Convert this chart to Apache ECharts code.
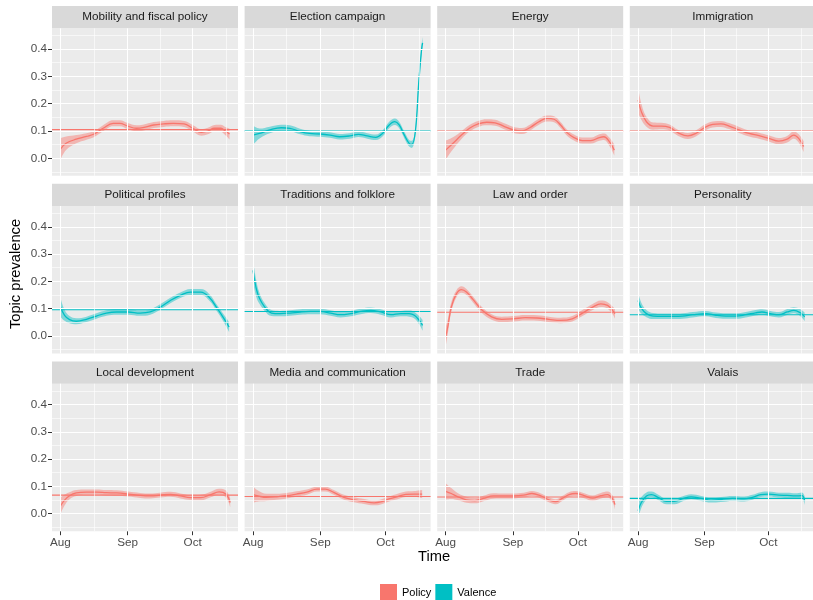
<!DOCTYPE html>
<html><head><meta charset="utf-8">
<script src="https://cdn.jsdelivr.net/npm/echarts@6/dist/echarts.min.js"></script>
<style>html,body{margin:0;padding:0;background:#fff}#c{width:813px;height:600px}</style>
</head><body><div id="c"></div>
<script>
// ---- data (x = days since 1 Aug) ----
const panelTitles = ['Mobility and fiscal policy','Election campaign','Energy','Immigration',
  'Political profiles','Traditions and folklore','Law and order','Personality',
  'Local development','Media and communication','Trade','Valais'];
const panelGroups = ['Policy','Valence','Policy','Policy','Valence','Valence','Policy','Valence','Policy','Policy','Policy','Valence'];
const panelMeans = [0.105,0.1,0.1,0.1,0.096,0.09,0.087,0.078,0.068,0.063,0.061,0.056];
const xTickValues = [0,31,61];
const xTickLabels = ['Aug','Sep','Oct'];
const yTickValues = [0,0.1,0.2,0.3,0.4];

const d1 = [0,2.6,7.3,12,15.8,19.7,24.3,27.4,31,35,38,43,47.6,52,57,61,65,68,71,74,76,78];
const v1 = [0.034,0.055,0.07,0.08,0.09,0.11,0.128,0.128,0.118,0.11,0.112,0.122,0.126,0.128,0.126,0.11,0.095,0.1,0.11,0.11,0.1,0.089];
const s1 = [0.04,0.025,0.015,0.012,0.011,0.011,0.011,0.011,0.011,0.011,0.011,0.011,0.011,0.011,0.011,0.012,0.012,0.012,0.012,0.013,0.015,0.02];

const d2 = [0,3,7.75,13,17,21.7,26,31,35.5,40,44.6,48.6,52.7,56.6,59.7,62.8,65.4,67.4,69.8,72,73.2,74.9,76.4,77.7,78.2];
const v2 = [0.085,0.091,0.104,0.112,0.11,0.098,0.091,0.089,0.085,0.079,0.082,0.088,0.082,0.077,0.091,0.122,0.134,0.122,0.085,0.055,0.051,0.1,0.274,0.396,0.423];
const s2 = [0.035,0.018,0.012,0.011,0.011,0.01,0.01,0.01,0.01,0.01,0.01,0.01,0.01,0.01,0.011,0.012,0.012,0.012,0.012,0.012,0.013,0.013,0.014,0.016,0.02];

const d3 = [0,3.4,7.3,11,15,19,22.8,26.7,31.3,35.2,39,43,46.8,50,53,56,59.2,63,67,70.9,73,75.5,77.8];
const v3 = [0.03,0.055,0.085,0.11,0.126,0.132,0.13,0.118,0.104,0.1,0.113,0.134,0.146,0.143,0.122,0.094,0.076,0.065,0.065,0.076,0.079,0.061,0.03];
const s3 = [0.035,0.022,0.014,0.012,0.011,0.011,0.011,0.011,0.011,0.011,0.011,0.011,0.011,0.011,0.011,0.011,0.011,0.011,0.011,0.012,0.012,0.015,0.02];

const d4 = [0,1.5,3.9,7,10.9,14.7,18.6,23.3,27,31,34.9,38.8,42.6,47.3,52,56.6,61.2,65.9,69.8,72.9,75.2,77.5];
const v4 = [0.213,0.171,0.134,0.118,0.118,0.113,0.094,0.082,0.091,0.112,0.124,0.126,0.118,0.104,0.091,0.083,0.073,0.063,0.07,0.085,0.073,0.043];
const s4 = [0.045,0.03,0.018,0.013,0.012,0.011,0.011,0.011,0.011,0.011,0.011,0.011,0.011,0.011,0.011,0.011,0.011,0.011,0.012,0.013,0.015,0.02];

const d5 = [0,1.9,4.2,7.3,12,16.6,21.2,25.9,31.3,36.7,41.4,46,50.7,55.3,60,64.7,68.5,72.4,75.5,77.8];
const v5 = [0.106,0.076,0.06,0.054,0.061,0.073,0.084,0.088,0.088,0.084,0.088,0.106,0.13,0.149,0.161,0.161,0.143,0.1,0.063,0.033];
const s5 = [0.035,0.02,0.013,0.011,0.01,0.01,0.01,0.01,0.01,0.01,0.01,0.01,0.01,0.01,0.011,0.011,0.012,0.012,0.014,0.018];

const d6 = [0,1.5,3,5.4,8.5,12.4,17,21.7,26.4,31,35.7,40.3,45,49.6,54.3,58.9,63.6,68.2,72,74.4,76.7,78.2];
const v6 = [0.24,0.173,0.137,0.106,0.084,0.082,0.084,0.088,0.09,0.09,0.084,0.078,0.082,0.09,0.094,0.088,0.078,0.082,0.082,0.076,0.057,0.039];
const s6 = [0.04,0.03,0.02,0.014,0.011,0.01,0.01,0.01,0.01,0.01,0.01,0.01,0.01,0.01,0.01,0.01,0.01,0.01,0.011,0.012,0.015,0.02];

const d7 = [0,1.1,2.6,5,7.3,9.6,12.7,16.6,21.2,25.9,31.3,36.7,42.2,47.6,53,58.4,63.1,67.8,71.6,74.7,77,78.1];
const v7 = [-0.004,0.039,0.106,0.155,0.17,0.161,0.133,0.096,0.07,0.061,0.063,0.067,0.066,0.061,0.057,0.063,0.084,0.106,0.118,0.112,0.094,0.082];
const s7 = [0.035,0.025,0.018,0.013,0.012,0.011,0.011,0.011,0.01,0.01,0.01,0.01,0.01,0.01,0.01,0.01,0.011,0.011,0.012,0.012,0.014,0.018];

const d8 = [0,1.5,3.9,7,11.6,16.3,20.9,25.6,31.8,36.4,41,45.7,50.4,55,58,62,65.9,69.8,72.9,76,78];
const v8 = [0.13,0.102,0.082,0.073,0.072,0.072,0.073,0.078,0.082,0.076,0.073,0.073,0.078,0.085,0.088,0.082,0.078,0.088,0.094,0.085,0.07];
const s8 = [0.03,0.02,0.013,0.011,0.01,0.01,0.01,0.01,0.01,0.01,0.01,0.01,0.01,0.01,0.01,0.01,0.01,0.011,0.011,0.013,0.016];

const d9 = [0,1.9,4.2,7.3,12,16.6,21.2,25.9,31.3,36.7,41.4,46,50.7,55.3,60,64.7,69.3,73.2,76.3,78.3];
const v9 = [0.029,0.05,0.066,0.076,0.079,0.079,0.077,0.076,0.072,0.067,0.065,0.068,0.071,0.065,0.059,0.059,0.07,0.08,0.072,0.041];
const s9 = [0.03,0.02,0.013,0.011,0.01,0.01,0.01,0.01,0.009,0.009,0.009,0.009,0.009,0.009,0.009,0.01,0.01,0.011,0.013,0.017];

const d10 = [0,2.3,6.2,10.9,15.5,20,24.8,29.5,33.3,37.2,41.9,46.5,51.2,55.8,58.9,62.8,66.7,70.5,74.4,78];
const v10 = [0.07,0.065,0.06,0.062,0.066,0.072,0.079,0.09,0.09,0.078,0.06,0.051,0.045,0.04,0.043,0.054,0.063,0.071,0.072,0.072];
const s10 = [0.03,0.02,0.013,0.011,0.01,0.01,0.01,0.009,0.009,0.009,0.009,0.009,0.009,0.009,0.009,0.009,0.01,0.01,0.011,0.015];

const d11 = [0,2.6,5.7,9.6,13.5,17.4,22,26.7,31.3,36,39.8,43.7,47.6,50.7,53.8,56.9,60,63.9,67.8,71.6,74.7,77,78.1];
const v11 = [0.082,0.074,0.062,0.051,0.048,0.056,0.065,0.065,0.065,0.068,0.074,0.066,0.051,0.044,0.056,0.07,0.074,0.066,0.057,0.066,0.07,0.054,0.033];
const s11 = [0.03,0.02,0.013,0.011,0.01,0.01,0.01,0.009,0.009,0.009,0.009,0.009,0.009,0.009,0.009,0.009,0.009,0.009,0.01,0.01,0.011,0.013,0.017];

const d12 = [0,1.5,3.9,6.2,9.3,13.2,17,20.9,24.8,29.5,34.1,38.8,44.2,49.6,53.5,57.4,61.2,65.9,69.8,73.6,76.7,78];
const v12 = [0.011,0.041,0.065,0.07,0.06,0.045,0.045,0.055,0.062,0.056,0.05,0.052,0.056,0.054,0.06,0.07,0.072,0.068,0.067,0.065,0.066,0.048];
const s12 = [0.03,0.02,0.013,0.011,0.01,0.01,0.01,0.009,0.009,0.009,0.009,0.009,0.009,0.009,0.009,0.009,0.009,0.009,0.01,0.01,0.012,0.016];

const panelDays = [d1,d2,d3,d4,d5,d6,d7,d8,d9,d10,d11,d12];
const panelVals = [v1,v2,v3,v4,v5,v6,v7,v8,v9,v10,v11,v12];
const panelSE = [s1,s2,s3,s4,s5,s6,s7,s8,s9,s10,s11,s12];

// ---- layout / style ----
const FONT = '"Liberation Sans", Arial, Helvetica, sans-serif';
const groupColors = {Policy:'#F8766D', Valence:'#00BFC4'};
const colLeft = [52,244.6,437.2,629.8], rowTop = [28.3,206,383.7];
const W = 186, H = 147.5, STRIP = 22.3;
const xMin = -3.9, xMax = 81.9, yMin = -0.064, yMax = 0.476;
const xMinorGrid = [15.5,46,76.5];
const yMinorGrid = [-0.05,0.05,0.15,0.25,0.35,0.45];
const SMOOTH = 0.4;

const grids = [], xAxes = [], yAxes = [], series = [], graphics = [];
for (let i = 0; i < 12; i++) {
  const r = Math.floor(i / 4), c = i % 4;
  const left = colLeft[c], top = rowTop[r];
  const col = groupColors[panelGroups[i]];
  grids.push({left, top, width: W, height: H, show: true, backgroundColor: '#EBEBEB', borderWidth: 0, containLabel: false});
  xAxes.push({gridIndex: i, type: 'value', min: xMin, max: xMax,
    splitLine: {show: false}, axisLine: {show: false, onZero: false, lineStyle: {color: '#EBEBEB', width: 0}},
    axisTick: {show: r === 2, customValues: xTickValues, length: 4, lineStyle: {color: '#333333', width: 1}},
    axisLabel: {show: r === 2, customValues: xTickValues, margin: 6, color: '#4D4D4D', fontSize: 11.7, fontFamily: FONT,
      formatter: v => { const k = xTickValues.indexOf(Math.round(v)); return k >= 0 ? xTickLabels[k] : ''; }}
  });
  yAxes.push({gridIndex: i, type: 'value', min: yMin, max: yMax,
    splitLine: {show: false}, axisLine: {show: false, onZero: false, lineStyle: {color: '#EBEBEB', width: 0}},
    axisTick: {show: c === 0, customValues: yTickValues, length: 4, lineStyle: {color: '#333333', width: 1}},
    axisLabel: {show: c === 0, customValues: yTickValues, margin: 5, color: '#4D4D4D', fontSize: 11.7, fontFamily: FONT,
      formatter: v => v.toFixed(1)}
  });
  // panel grid lines
  const gl = [];
  yMinorGrid.forEach(v => gl.push({yAxis: v, lineStyle: {color: '#FFFFFF', width: 0.6, type: 'solid'}}));
  xMinorGrid.forEach(v => gl.push({xAxis: v, lineStyle: {color: '#FFFFFF', width: 0.6, type: 'solid'}}));
  yTickValues.forEach(v => gl.push({yAxis: v, lineStyle: {color: '#FFFFFF', width: 1.1, type: 'solid'}}));
  xTickValues.forEach(v => gl.push({xAxis: v, lineStyle: {color: '#FFFFFF', width: 1.1, type: 'solid'}}));
  series.push({type: 'line', name: 'grid' + i, xAxisIndex: i, yAxisIndex: i, data: [], z: 1, silent: true,
    markLine: {silent: true, symbol: ['none','none'], label: {show: false}, data: gl, animation: false}});
  const ds = panelDays[i], vs = panelVals[i], ss = panelSE[i];
  // ribbon: value first so the stack runs on the y dimension
  series.push({type: 'line', name: 'lo' + i, xAxisIndex: i, yAxisIndex: i, stack: 'band' + i, stackStrategy: 'all',
    data: ds.map((x, k) => [vs[k] - (ss[k] ?? 0.01), x]), encode: {x: 1, y: 0},
    smooth: SMOOTH, showSymbol: false, symbol: 'none',
    lineStyle: {opacity: 0, width: 0}, z: 2, silent: true});
  series.push({type: 'line', name: 'hi' + i, xAxisIndex: i, yAxisIndex: i, stack: 'band' + i, stackStrategy: 'all',
    data: ds.map((x, k) => [2 * (ss[k] ?? 0.01), x]), encode: {x: 1, y: 0},
    smooth: SMOOTH, showSymbol: false, symbol: 'none',
    lineStyle: {opacity: 0, width: 0}, areaStyle: {color: col, opacity: 0.45}, z: 2, silent: true});
  series.push({type: 'line', name: panelGroups[i], xAxisIndex: i, yAxisIndex: i,
    data: ds.map((x, k) => [x, vs[k]]), smooth: SMOOTH, showSymbol: false, symbol: 'none', color: col,
    lineStyle: {color: col, width: 1.3}, z: 3});
  // mean line across the panel
  series.push({type: 'line', name: 'mean' + i, xAxisIndex: i, yAxisIndex: i, z: 4, silent: true,
    data: [[xMin, panelMeans[i]], [xMax, panelMeans[i]]], showSymbol: false, symbol: 'none',
    color: col, lineStyle: {color: col, width: 1.1, type: 'solid'}});
  // strip
  graphics.push({type: 'rect', shape: {x: left, y: top - STRIP, width: W, height: STRIP}, style: {fill: '#D9D9D9'}, silent: true});
  graphics.push({type: 'text', x: left + W / 2, y: top - STRIP / 2,
    style: {text: panelTitles[i], fill: '#1A1A1A', font: '11.7px ' + FONT, align: 'center', verticalAlign: 'middle', textAlign: 'center', textVerticalAlign: 'middle'}, silent: true});
}
graphics.push({type: 'text', x: 434, y: 557,
  style: {text: 'Time', fill: '#000000', font: '14.7px ' + FONT, align: 'center', verticalAlign: 'middle', textAlign: 'center', textVerticalAlign: 'middle'}});
graphics.push({type: 'text', x: 16, y: 274, rotation: Math.PI / 2,
  style: {text: 'Topic prevalence', fill: '#000000', font: '14.7px ' + FONT, align: 'center', verticalAlign: 'middle', textAlign: 'center', textVerticalAlign: 'middle'}});

const chart = echarts.init(document.getElementById('c'), null, {renderer: 'canvas'});
chart.setOption({
  animation: false,
  backgroundColor: '#FFFFFF',
  grid: grids, xAxis: xAxes, yAxis: yAxes, series,
  legend: {left: 380, top: 584, padding: 0, orient: 'horizontal', itemWidth: 17, itemHeight: 17, itemGap: 4, icon: 'rect',
    textStyle: {color: '#000000', fontSize: 11, fontFamily: FONT},
    data: [{name: 'Policy', itemStyle: {color: '#F8766D'}}, {name: 'Valence', itemStyle: {color: '#00BFC4'}}]},
  graphic: graphics
});
</script></body></html>
